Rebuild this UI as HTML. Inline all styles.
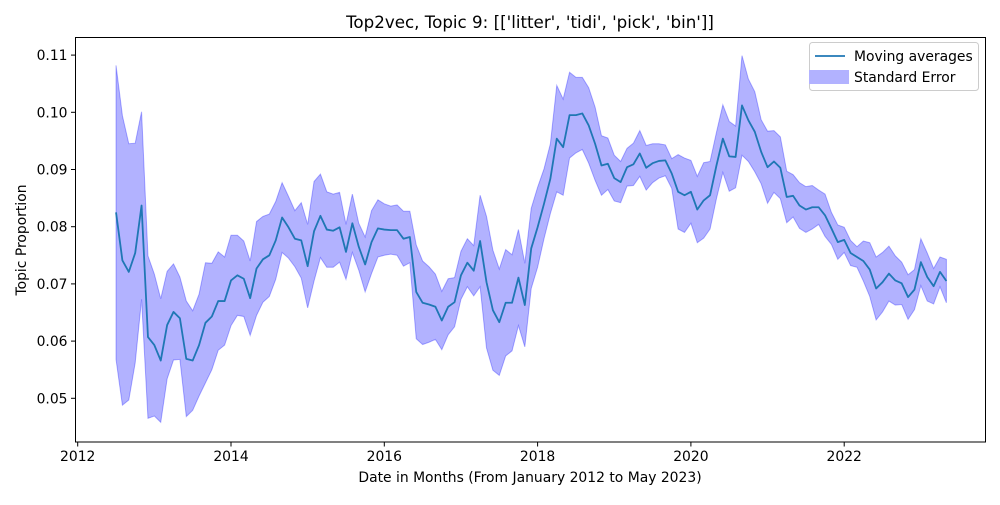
<!DOCTYPE html>
<html><head><meta charset="utf-8"><style>
body{margin:0;background:#fff;}
svg text{font-family:"DejaVu Sans","Liberation Sans",sans-serif;fill:#000;}
</style></head><body>
<svg id="chart" width="1000" height="500" xmlns="http://www.w3.org/2000/svg">
<rect width="1000" height="500" fill="#fff"/>
<text x="530" y="28" font-size="16.7" text-anchor="middle">Top2vec, Topic 9: [['litter', 'tidi', 'pick', 'bin']]</text>
<g id="plot"></g>
<text x="530" y="482" font-size="13.9" text-anchor="middle">Date in Months (From January 2012 to May 2023)</text>
<text transform="translate(26,240) rotate(-90)" font-size="13.9" text-anchor="middle">Topic Proportion</text>
<g>
<rect x="809.5" y="42.5" width="169" height="48" rx="3" fill="#fff" fill-opacity="0.8" stroke="#ccc"/>
<line x1="815" y1="56" x2="845" y2="56" stroke="#1f77b4" stroke-width="1.8"/>
<text x="854" y="61" font-size="13.9">Moving averages</text>
<rect x="809" y="70" width="40" height="14" fill="#b2b2ff"/>
<text x="854" y="82" font-size="13.9">Standard Error</text>
</g>
</svg>
<script>
const startMonth = 6; // July 2012
const means = [0.0825,0.0741,0.0721,0.0754,0.0837,0.0607,0.0593,0.0566,0.0628,0.0651,0.0640,0.0569,0.0566,0.0593,0.0632,0.0643,0.0670,0.0670,0.0706,0.0715,0.0709,0.0675,0.0727,0.0743,0.0750,0.0776,0.0816,0.0799,0.0779,0.0776,0.0731,0.0792,0.0819,0.0795,0.0793,0.0799,0.0756,0.0806,0.0765,0.0734,0.0773,0.0797,0.0795,0.0794,0.0794,0.0779,0.0782,0.0686,0.0667,0.0664,0.0660,0.0636,0.0660,0.0668,0.0715,0.0737,0.0723,0.0775,0.0703,0.0654,0.0633,0.0667,0.0667,0.0711,0.0663,0.0762,0.0799,0.0840,0.0884,0.0954,0.0939,0.0995,0.0995,0.0998,0.0977,0.0945,0.0907,0.0910,0.0885,0.0878,0.0904,0.0909,0.0928,0.0903,0.0911,0.0915,0.0916,0.0893,0.0861,0.0855,0.0861,0.0830,0.0846,0.0855,0.0907,0.0954,0.0923,0.0922,0.1012,0.0986,0.0966,0.0931,0.0904,0.0914,0.0903,0.0852,0.0854,0.0837,0.0830,0.0834,0.0834,0.0820,0.0797,0.0773,0.0777,0.0754,0.0747,0.0740,0.0725,0.0692,0.0703,0.0718,0.0706,0.0701,0.0677,0.0690,0.0738,0.0712,0.0696,0.0721,0.0705];
const stdErrs = [0.0257,0.0253,0.0224,0.0192,0.0164,0.0142,0.0124,0.0108,0.0094,0.0084,0.0072,0.0101,0.0087,0.0089,0.0105,0.0093,0.0086,0.0077,0.0079,0.0070,0.0066,0.0065,0.0082,0.0075,0.0072,0.0068,0.0061,0.0054,0.0049,0.0066,0.0073,0.0087,0.0073,0.0066,0.0064,0.0061,0.0048,0.0051,0.0041,0.0048,0.0055,0.0050,0.0045,0.0042,0.0044,0.0048,0.0045,0.0082,0.0073,0.0066,0.0057,0.0051,0.0049,0.0043,0.0042,0.0042,0.0044,0.0080,0.0115,0.0105,0.0093,0.0093,0.0084,0.0084,0.0073,0.0070,0.0070,0.0061,0.0061,0.0093,0.0084,0.0075,0.0066,0.0063,0.0066,0.0064,0.0052,0.0045,0.0040,0.0036,0.0033,0.0037,0.0040,0.0039,0.0034,0.0030,0.0027,0.0026,0.0065,0.0065,0.0055,0.0058,0.0066,0.0059,0.0058,0.0059,0.0061,0.0054,0.0087,0.0072,0.0070,0.0056,0.0063,0.0054,0.0054,0.0045,0.0037,0.0040,0.0040,0.0038,0.0030,0.0037,0.0028,0.0030,0.0022,0.0022,0.0018,0.0035,0.0047,0.0055,0.0052,0.0048,0.0043,0.0037,0.0039,0.0035,0.0041,0.0042,0.0031,0.0026,0.0038];
const xTicks = [2012,2014,2016,2018,2020,2022];
const yTicks = [0.05,0.06,0.07,0.08,0.09,0.10,0.11];

const L=75.5,R=985.5,T=37.5,B=442;
const xScale = t => 77.7 + (t-2012)*76.65;
const yScale = v => 398.3 - (v-0.05)*5720;
const NS="http://www.w3.org/2000/svg";
const plot=document.getElementById('plot');
function mk(tag,attrs){const e=document.createElementNS(NS,tag);for(const k in attrs)e.setAttribute(k,attrs[k]);plot.appendChild(e);return e;}
const times = means.map((_,i)=>2012+(startMonth+i)/12);
let up=[],lo=[];
times.forEach((t,i)=>{up.push(xScale(t).toFixed(2)+','+yScale(means[i]+stdErrs[i]).toFixed(2));lo.push(xScale(t).toFixed(2)+','+yScale(means[i]-stdErrs[i]).toFixed(2));});
const band=mk('polygon',{points:up.concat(lo.reverse()).join(' '),fill:'#0000ff','fill-opacity':'0.3',stroke:'#0000ff','stroke-opacity':'0.3'});


const line=mk('polyline',{points:times.map((t,i)=>xScale(t).toFixed(2)+','+yScale(means[i]).toFixed(2)).join(' '),fill:'none',stroke:'#1f77b4','stroke-width':'1.8','stroke-linejoin':'round'});


const frame=mk('rect',{x:L,y:T,width:R-L,height:B-T,fill:'none',stroke:'#000','stroke-width':'1'});


xTicks.forEach(t=>{const x=xScale(t);
 const tk=mk('line',{x1:x,x2:x,y1:B,y2:B+4.5,stroke:'#000'});
 
 
 const tx=mk('text',{x:x,y:B+19,'font-size':'13.9','text-anchor':'middle'});tx.textContent=String(t);
 
 });
yTicks.forEach(v=>{const y=yScale(v);
 const tk=mk('line',{x1:L-4.5,x2:L,y1:y,y2:y,stroke:'#000'});
 
 
 const tx=mk('text',{x:L-8,y:y+5,'font-size':'13.9','text-anchor':'end'});tx.textContent=v.toFixed(2);
 
 });
</script>
</body></html>
